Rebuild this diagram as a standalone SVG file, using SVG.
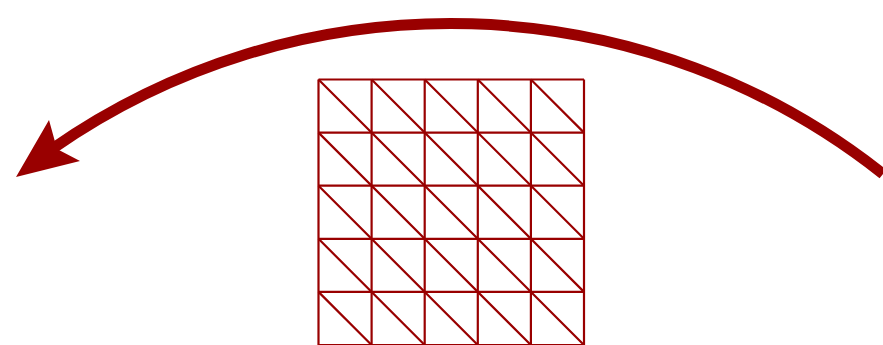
<svg xmlns="http://www.w3.org/2000/svg" width="883" height="345" viewBox="0 0 883 345">
<style>
.g{stroke:#990000;stroke-width:2.2;fill:none}
.arc{stroke:#990000;stroke-width:11;fill:none}
.head{fill:#990000;stroke:none}
</style>
<rect width="883" height="345" fill="#ffffff"/>
<g id="mesh" class="g">
<path d="M318.5 79.5V345M371.6 79.5V345M424.7 79.5V345M477.8 79.5V345M530.9 79.5V345M584 79.5V345"/>
<path d="M318.5 79.5H584M318.5 132.6H584M318.5 185.7H584M318.5 238.8H584M318.5 291.9H584M318.5 345H584"/>
<path d="M318.5 79.5L584 345M371.6 79.5L584 291.9M424.7 79.5L584 238.8M477.8 79.5L584 185.7M530.9 79.5L584 132.6M318.5 132.6L530.9 345M318.5 185.7L477.8 345M318.5 238.8L424.7 345M318.5 291.9L371.6 345"/>
</g>
<g id="connectors">
<path class="arc" d="M883 174A696.3 696.3 0 0 0 52 149"/>
<polygon class="head" points="16,177 49,120 57,149 80,161"/>
</g>
</svg>
